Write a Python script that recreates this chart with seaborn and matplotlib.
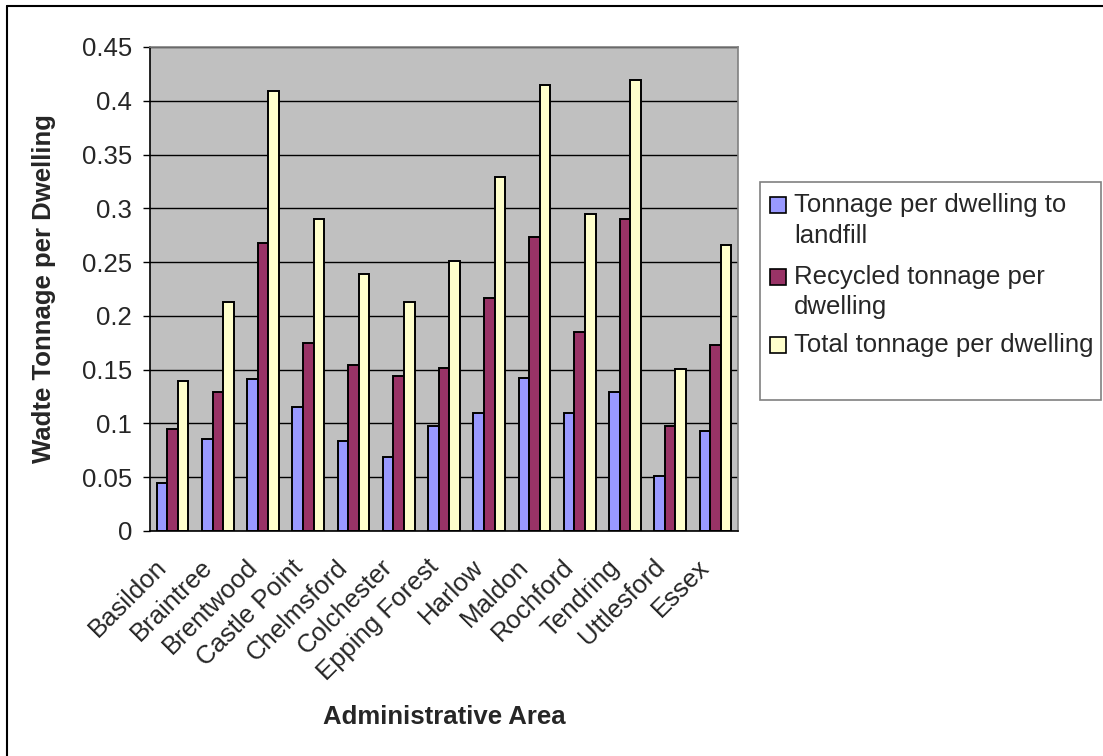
import pandas as pd
import matplotlib
matplotlib.use("Agg")
import matplotlib.pyplot as plt
import matplotlib.transforms as mtransforms
import seaborn as sns
from matplotlib.patches import Rectangle
from matplotlib.lines import Line2D

areas = ["Basildon", "Braintree", "Brentwood", "Castle Point", "Chelmsford",
         "Colchester", "Epping Forest", "Harlow", "Maldon", "Rochford",
         "Tendring", "Uttlesford", "Essex"]
landfill = [0.045, 0.086, 0.141, 0.115, 0.084, 0.069, 0.098, 0.110, 0.142, 0.110, 0.129, 0.051, 0.093]
recycled = [0.095, 0.129, 0.268, 0.175, 0.154, 0.144, 0.152, 0.217, 0.273, 0.185, 0.290, 0.098, 0.173]
total = [0.139, 0.213, 0.409, 0.290, 0.239, 0.213, 0.251, 0.329, 0.415, 0.295, 0.419, 0.151, 0.266]

series = ["Tonnage per dwelling to landfill", "Recycled tonnage per dwelling", "Total tonnage per dwelling"]
legend_labels = ["Tonnage per dwelling to\nlandfill", "Recycled tonnage per\ndwelling", "Total tonnage per dwelling"]
colors = ["#9999FF", "#993366", "#FFFFCC"]
yticks = [0, 0.05, 0.1, 0.15, 0.2, 0.25, 0.3, 0.35, 0.4, 0.45]

rows = []
for s, vals in zip(series, [landfill, recycled, total]):
    for a, v in zip(areas, vals):
        rows.append({"area": a, "series": s, "value": v})
df = pd.DataFrame(rows)

sns.set_style("white")
plt.rcParams["font.family"] = ["Liberation Sans", "DejaVu Sans"]
fs = 18.5

fig = plt.figure(figsize=(11.03, 7.56), dpi=100)
W, H = 1103, 756
ax = fig.add_axes([150 / W, 1 - 531 / H, (738 - 150) / W, (531 - 47) / H])
ax.set_facecolor("#C0C0C0")

sns.barplot(data=df, x="area", y="value", hue="series", hue_order=series, order=areas,
            palette=colors, width=0.7, gap=0, edgecolor="black", linewidth=1.4,
            saturation=1, legend=False, ax=ax)

ax.set_ylim(0, 0.45)
ax.set_xlim(-0.5, len(areas) - 0.5)
ax.set_yticks(yticks)
ax.set_yticklabels(["%g" % t for t in yticks], fontsize=fs)
ax.yaxis.grid(True, color="black", linewidth=1)
ax.set_axisbelow(True)

# category labels: rotated, ending a little left of each category centre
ax.set_xticks(range(len(areas)))
ax.set_xticklabels([])
ax.tick_params(axis="x", which="major", length=0)
offset = mtransforms.ScaledTranslation(-18 / 100, -24 / 100, fig.dpi_scale_trans)
for i, name in enumerate(areas):
    ax.text(i, 0, name, transform=ax.get_xaxis_transform() + offset, fontsize=fs,
            rotation=45, ha="right", va="top", rotation_mode="anchor")
ax.set_xticks([i - 0.5 for i in range(len(areas) + 1)], minor=True)
ax.tick_params(axis="x", which="minor", length=5, width=1, color="black", direction="out")
ax.tick_params(axis="y", length=5, width=1, color="black", direction="out", left=True, pad=8)

for side in ["left", "bottom"]:
    ax.spines[side].set_color("black")
    ax.spines[side].set_linewidth(1.2)
for side in ["top", "right"]:
    ax.spines[side].set_color("#808080")
    ax.spines[side].set_linewidth(1.2)

ax.set_xlabel("")
ax.set_ylabel("")
fig.text(444 / W, 1 - 717 / H, "Administrative Area", fontsize=fs, fontweight="bold",
         ha="center", va="center")
fig.text(44 / W, 1 - 289 / H, "Wadte Tonnage per Dwelling", fontsize=fs, fontweight="bold",
         ha="center", va="center", rotation=90)

# legend box, drawn like the Excel one (square beside the first line of each entry)
fig.patches.append(Rectangle((760 / W, 1 - 400 / H), (1101 - 760) / W, (400 - 182) / H,
                             transform=fig.transFigure, facecolor="white",
                             edgecolor="#808080", linewidth=1.2))
line_y = [[205, 236], [277, 307], [345]]
for c, lab, ys in zip(colors, legend_labels, line_y):
    fig.patches.append(Rectangle((770 / W, 1 - (ys[0] + 8) / H), 16 / W, 16 / H,
                                 transform=fig.transFigure, facecolor=c,
                                 edgecolor="black", linewidth=1.2))
    for txt, y in zip(lab.split("\n"), ys):
        fig.text(794 / W, 1 - y / H, txt, fontsize=fs, ha="left", va="center")

# chart border (top and left only)
fig.add_artist(Line2D([7 / W, 7 / W], [0, 1 - 6 / H], transform=fig.transFigure, color="black", linewidth=1.5))
fig.add_artist(Line2D([7 / W, 1], [1 - 6 / H, 1 - 6 / H], transform=fig.transFigure, color="black", linewidth=1.5))

fig.savefig("out.png", dpi=100)
